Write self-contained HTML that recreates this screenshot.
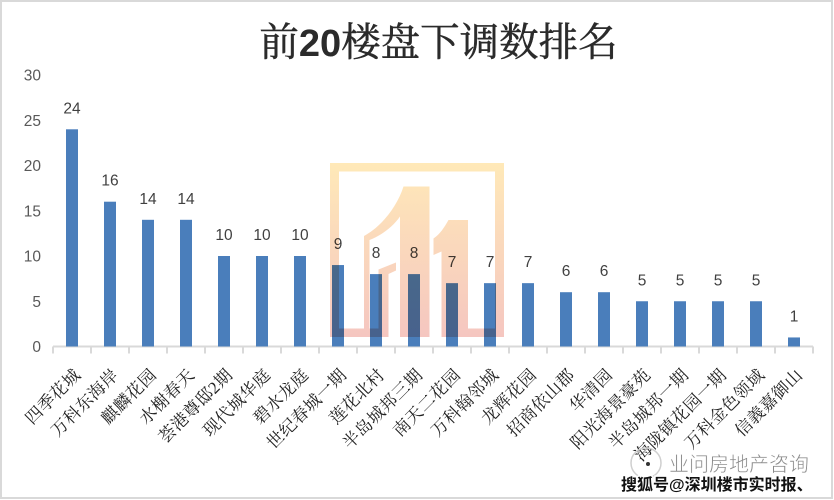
<!DOCTYPE html>
<html lang="zh">
<head>
<meta charset="utf-8">
<title>前20楼盘下调数排名</title>
<style>
html,body{margin:0;padding:0;background:#fff;}
#wrap{position:relative;width:834px;height:500px;overflow:hidden;}
svg{display:block;}
.sans{font-family:"Liberation Sans","Noto Sans CJK SC",sans-serif;}
.serif{font-family:"Liberation Serif","Noto Serif CJK SC",serif;}
</style>
</head>
<body>
<div id="wrap">
<svg id="chart" width="834" height="500" viewBox="0 0 834 500" xmlns="http://www.w3.org/2000/svg">
<defs>
<linearGradient id="wmGrad" x1="0" y1="0" x2="0" y2="1">
<stop offset="0" stop-color="#FFE9B8"/>
<stop offset="1" stop-color="#F5C6C0"/>
</linearGradient>
</defs>
<rect x="1" y="1" width="831" height="497" fill="#fff" stroke="#d9d9d9" stroke-width="2"/>
<text x="438.500" y="56" text-anchor="middle" font-size="39.500" fill="#2b2b2b" stroke="#2b2b2b" stroke-width="0.500" class="serif">前<tspan class="sans" font-weight="bold" font-size="38" stroke="none">20</tspan>楼盘下调数排名</text>
<g id="yAxis"></g>
<g id="xAxis"></g>
<g id="bars"></g>
<g id="values"></g>
<g id="cats"></g>
<path style="mix-blend-mode:multiply" fill="url(#wmGrad)" fill-rule="evenodd"
 d="M330 163H504V337H441.500V251.500L433.500 255V238.500C440 234 444 228 448.500 220H468V328.500H495V171.500H339V328.500H364V236C381 227 397 207 403.500 186.500H429.500V337H400V216.500C392 228 380 236 369.500 240V328.500H378.500V269.500L396 262.500V270.500L388.500 274V337H330Z"/>
<circle cx="646" cy="463" r="15" fill="none" stroke="#cfcfcf" stroke-width="1.500"/>
<circle cx="648" cy="464" r="2" fill="#333"/>
<text x="669" y="471" font-size="20" fill="#8a8a8a" stroke="#fff" stroke-width="0.500" class="sans">业问房地产咨询</text>
<text x="621" y="490" font-size="16" font-weight="bold" fill="#111" stroke="#fff" stroke-width="3" paint-order="stroke" class="sans">搜狐号@深圳楼市实时报、</text>
</svg>
</div>
<script>
const categories = ["四季花城","万科东海岸","麒麟花园","水榭春天","荟港尊邸2期","现代城华庭","碧水龙庭","世纪春城一期","莲花北村","半岛城邦三期","南天二花园","万科翰邻城","龙辉花园","招商依山郡","华清园","阳光海景豪苑","半岛城邦一期","海陇镇花园一期","万科金色领域","信義嘉御山"];
const seriesValues = [24,16,14,14,10,10,10,9,8,8,7,7,7,6,6,5,5,5,5,1];
const tickLabels = [0,5,10,15,20,25,30];

const NS = 'http://www.w3.org/2000/svg';
const plotLeft = 53, plotRight = 813, baseY = 346.5, topY = 75;
const yMax = tickLabels[tickLabels.length - 1];
const yScale = v => baseY - (v / yMax) * (baseY - topY);
const band = (plotRight - plotLeft) / categories.length;
const xScale = i => plotLeft + band * (i + 0.5);
const barWidth = 12;

function mk(tag, attrs, parent, text) {
  const el = document.createElementNS(NS, tag);
  for (const k in attrs) el.setAttribute(k, attrs[k]);
  if (text !== undefined) el.textContent = text;
  parent.appendChild(el);
  return el;
}

const yG = document.getElementById('yAxis');
const xG = document.getElementById('xAxis');
const barG = document.getElementById('bars');
const valG = document.getElementById('values');
const catG = document.getElementById('cats');

tickLabels.forEach(t => {
  const el = mk('text', {x: 41, y: yScale(t) + 5.5, 'text-anchor': 'end', 'font-size': 15.5, fill: '#595959', class: 'sans'}, yG, t);
  
  
});

const axisLine = mk('line', {x1: plotLeft, x2: plotRight, y1: baseY, y2: baseY, stroke: '#d9d9d9', 'stroke-width': 2}, xG);



for (let i = 0; i <= categories.length; i++) {
  const x = plotLeft + band * i;
  const tick = mk('line', {x1: x, x2: x, y1: baseY, y2: baseY + 7, stroke: '#d9d9d9', 'stroke-width': 2}, xG);
  
  
}

categories.forEach((c, i) => {
  const v = seriesValues[i];
  const cx = xScale(i);
  const bar = mk('rect', {x: cx - barWidth / 2, y: yScale(v), width: barWidth, height: baseY - yScale(v), fill: '#4A7EBB'}, barG);
  
  

  const label = mk('text', {x: cx, y: yScale(v) - 16, 'text-anchor': 'middle', 'font-size': 15.5, fill: '#404040', class: 'sans'}, valG, v);
  
  

  const ax = cx + 9.5, ay = 376;
  const cat = mk('text', {x: ax, y: ay, 'text-anchor': 'end', 'font-size': 17, 'letter-spacing': 0.4, fill: '#222', class: 'serif', transform: 'rotate(-45 ' + ax + ' ' + ay + ')'}, catG, c);
  
  
});
</script>
</body>
</html>
